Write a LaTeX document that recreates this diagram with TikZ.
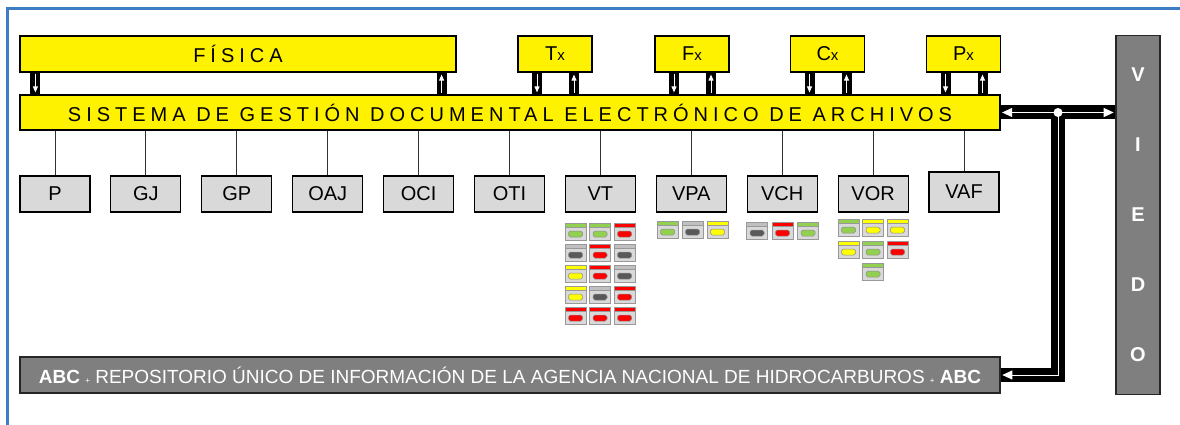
\documentclass[tikz,border=0pt]{standalone}
\usepackage{fontspec}
\setmainfont{Liberation Sans}
\newfontfamily\spacedfont[LetterSpace=25]{Liberation Sans}
\usetikzlibrary{arrows.meta}
\definecolor{frameblue}{HTML}{3C7DC4}
\definecolor{unitgray}{HTML}{D9D9D9}
\definecolor{bargray}{HTML}{7F7F7F}
\definecolor{lampbody}{HTML}{D9D9D9}
\definecolor{lampedge}{HTML}{999999}
\definecolor{lg}{HTML}{92D050}
\definecolor{lr}{HTML}{FF0000}
\definecolor{ly}{HTML}{FFFF00}
\definecolor{lk}{HTML}{C0C0C0}
\definecolor{ld}{HTML}{595959}

\begin{document}
\begin{tikzpicture}[x=1pt,y=-1pt,
  frame/.style={frameblue,line width=3pt},
  ybar/.style={draw=black,line width=1.2pt,fill=yellow,inner sep=0pt,
    minimum height=36pt,font=\spacedfont\fontsize{20}{20}\selectfont},
  xbox/.style={draw=black,line width=1.2pt,fill=yellow,inner sep=0pt,
    minimum width=74pt,minimum height=36pt,font=\fontsize{20}{20}\selectfont},
  unit/.style={draw=black,line width=1.1pt,fill=unitgray,inner sep=0pt,
    minimum width=70pt,minimum height=36pt,font=\fontsize{20}{20}\selectfont},
  darkbar/.style={draw=black!85,line width=1.6pt,fill=bargray,text=white,inner sep=0pt},
  vidletter/.style={text=white,inner sep=0pt,font=\bfseries\fontsize{20}{20}\selectfont},
  tie/.style={draw=black!80,line width=0.9pt},
  band/.style={black,line width=10pt},
  flow/.style={white,line width=0.9pt,-{Triangle[width=5pt,length=6pt]},
    shorten <=1pt,shorten >=2pt},
  bus/.style={black,line width=14pt},
  busflow/.style={white,line width=1pt,shorten <=1.5pt,shorten >=1.5pt},
  lampframe/.style={draw=lampedge,line width=0.8pt,fill=lampbody},
  lampbulb/.style={draw=black!45,line width=0.5pt,rounded corners=1.8pt},
  lamp/.pic={
    \draw[lampframe] (0,0) rectangle (21,17);
    \draw[lampframe,fill=\lamphead] (0,0) rectangle (21,4.5);
    \draw[lampbulb,fill=\lamplight] (3.5,8) rectangle (17.5,14);
  }]
\useasboundingbox (0,0) rectangle (1180,425);
% page frame
\draw[frame] (7.5,425) |- (1180,8.5);

% top row: physical archive and the x-modules
\node[ybar,minimum width=436pt] (fisica) at (238,54) {FÍSICA};
\node[xbox] (tx) at (555,54) {T{\fontsize{15}{15}\selectfont x}};
\node[xbox] (fx) at (692,54) {F{\fontsize{15}{15}\selectfont x}};
\node[xbox] (cx) at (827.5,54) {C{\fontsize{15}{15}\selectfont x}};
\node[xbox] (px) at (963.5,54) {P{\fontsize{15}{15}\selectfont x}};
\node[ybar,minimum width=980pt,minimum height=35pt] (sistema) at (510,112.5)
  {SISTEMA DE GESTIÓN DOCUMENTAL ELECTRÓNICO DE ARCHIVOS};

% two-way links down to the system bar
\draw[band] ([xshift=16pt]fisica.south west) coordinate (d) -- (d |- sistema.north);
\draw[flow] (d) -- (d |- sistema.north);
\draw[band] ([xshift=-15pt]fisica.south east) coordinate (u) -- (u |- sistema.north);
\draw[flow] (u |- sistema.north) -- (u);
\foreach \n in {tx,fx,cx,px}{
  \draw[band] ([xshift=-18pt]\n.south) coordinate (d) -- (d |- sistema.north);
  \draw[flow] (d) -- (d |- sistema.north);
  \draw[band] ([xshift=19pt]\n.south) coordinate (u) -- (u |- sistema.north);
  \draw[flow] (u |- sistema.north) -- (u);
}

% dependencies hanging from the system bar
\foreach \t [count=\i from 0] in {P,GJ,GP,OAJ,OCI,OTI,VT,VPA,VCH,VOR}{
  \node[unit] (\t) at ({55+90.9*\i},194) {\t};
  \draw[tie] (\t.north) -- (\t.north |- sistema.south);
}
\node[unit,minimum height=40pt] (VAF) at (964,192) {VAF};
\draw[tie] (VAF.north) -- (VAF.north |- sistema.south);

% status lamps under VT, VPA, VCH and VOR
\foreach \c/\r/\lamphead/\lamplight in {0/0/lg/lg,1/0/lg/lg,2/0/lr/lr,
    0/1/lk/ld,1/1/lr/lr,2/1/lk/ld, 0/2/ly/ly,1/2/lr/lr,2/2/lk/ld,
    0/3/ly/ly,1/3/lk/ld,2/3/lr/lr, 0/4/lr/lr,1/4/lr/lr,2/4/lr/lr}
  \pic at ({565+24.5*\c},{223+21*\r}) {lamp};
\foreach \c/\lamphead/\lamplight in {0/lg/lg,1/lk/ld,2/ly/ly}
  \pic at ({657+25*\c},221) {lamp};
\foreach \c/\lamphead/\lamplight in {0/lk/ld,1/lr/lr,2/lg/lg}
  \pic at ({746.5+25.5*\c},222) {lamp};
\foreach \c/\r/\lamphead/\lamplight in {0/0/lg/lg,1/0/ly/ly,2/0/ly/ly,
    0/1/ly/ly,1/1/lg/lg,2/1/lr/lr, 1/2/lg/lg}
  \pic at ({838+24.5*\c},{219+22*\r}) {lamp};

% video column and repository bar
\node[darkbar,minimum width=44pt,minimum height=359pt] (video) at (1138,215) {};
\foreach \l [count=\k] in {V,I,E,D,O}
  \node[vidletter] (vid\k) at (1138,{5+70*\k}) {\l};
\node[darkbar,minimum width=980pt,minimum height=36pt,
  font=\fontsize{19}{19}\selectfont] (abc) at (510,375)
  {\textbf{ABC} {\fontsize{8}{8}\selectfont +} REPOSITORIO ÚNICO DE INFORMACIÓN DE LA AGENCIA NACIONAL DE HIDROCARBUROS {\fontsize{8}{8}\selectfont +} \textbf{ABC}};

% bus between system, video and repository
\coordinate (hub) at (1058,112.5);
\draw[bus] (sistema.east) -- (sistema.east -| video.west);
\draw[bus] (hub) |- (abc.east);
\draw[busflow,{Triangle[width=9pt,length=10pt]}-{Triangle[width=9pt,length=10pt]}]
  (sistema.east) -- (sistema.east -| video.west);
\draw[busflow,-{Triangle[width=9pt,length=10pt]}] (hub) |- (abc.east);
\fill[white] (hub) circle (4.5pt);
\end{tikzpicture}
\end{document}
